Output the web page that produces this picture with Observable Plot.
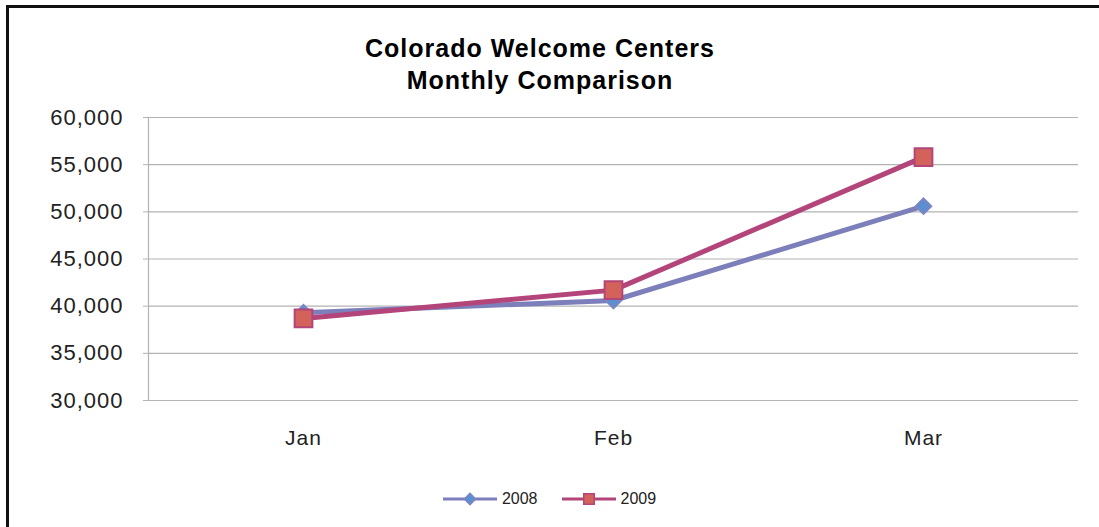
<!DOCTYPE html>
<html>
<head>
<meta charset="utf-8">
<script src="https://cdn.jsdelivr.net/npm/d3@7"></script>
<script src="https://cdn.jsdelivr.net/npm/@observablehq/plot@0.6"></script>
<style>
  html, body { margin: 0; padding: 0; background: #fff; }
  #wrap { position: relative; width: 1099px; height: 527px; overflow: hidden; font-family: "Liberation Sans", Arial, sans-serif; }
  #border { position: absolute; left: 6px; top: 5px; width: 1200px; height: 600px; border-left: 3px solid #111; border-top: 3px solid #111; }
  #title { position: absolute; left: 0; width: 1080px; top: 32px; text-align: center; font-weight: bold; font-size: 25px; line-height: 32px; letter-spacing: 1px; color: #000; }
  #chart { position: absolute; left: 0; top: 0; }
  #chart svg g[aria-label="y-axis tick label"] text, #chart svg g[aria-label="x-axis tick label"] text { letter-spacing: 1px; }
  #legend { position: absolute; top: 489px; left: 0; width: 1099px; display: flex; justify-content: center; font-size: 16px; color: #222; }
  .item { display: flex; align-items: center; margin: 0 12px; }
  .item svg { margin-right: 5px; }
</style>
</head>
<body>
<div id="wrap">
  <div id="border"></div>
  <div id="title">Colorado Welcome Centers<br>Monthly Comparison</div>
  <div id="chart"></div>
  <div id="legend"></div>
</div>
<script>
const months = ["Jan", "Feb", "Mar"];
const series = ["2008", "2009"];
const values2008 = [39300, 40600, 50600];
const values2009 = [38700, 41700, 55800];
const yTicks = [30000, 35000, 40000, 45000, 50000, 55000, 60000];

const colors = {
  "2008": {line: "#7d7fbb", fill: "#5b8fd0", stroke: "#7d86c4", symbol: "diamond2", r: 7},
  "2009": {line: "#b3457a", fill: "#d2625a", stroke: "#b3457a", symbol: "square", r: 10}
};

const data = [];
months.forEach((m, i) => {
  data.push({month: m, series: "2008", value: values2008[i]});
  data.push({month: m, series: "2009", value: values2009[i]});
});

const marks = [
  Plot.ruleY(yTicks, {stroke: "#b3b3b3", strokeWidth: 1.2}),
  Plot.frame({anchor: "left", stroke: "#b3b3b3", strokeWidth: 1.2}),
  Plot.axisY({ticks: yTicks, tickFormat: d3.format(","), tickSize: 5, tickPadding: 20, fontSize: 22, stroke: "#b3b3b3", fill: "#222"}),
  Plot.axisX({tickSize: 0, tickPadding: 30, fontSize: 21, fill: "#222"})
];
for (const s of series) {
  const c = colors[s];
  const d = data.filter(e => e.series === s);
  marks.push(Plot.line(d, {x: "month", y: "value", stroke: c.line, strokeWidth: 5}));
}
for (const s of series) {
  const c = colors[s];
  const d = data.filter(e => e.series === s);
  marks.push(Plot.dot(d, {x: "month", y: "value", symbol: () => c.symbol, r: c.r, fill: c.fill, stroke: c.stroke, strokeWidth: 2}));
}

const chart = Plot.plot({
  width: 1099,
  height: 527,
  marginTop: 117,
  marginBottom: 127,
  marginLeft: 148,
  marginRight: 21,
  style: {fontFamily: "'Liberation Sans', Arial, sans-serif", background: "transparent"},
  x: {type: "point", domain: months, padding: 0.5, label: null},
  y: {domain: [30000, 60000], label: null},
  symbol: {type: "identity"},
  marks
});
document.getElementById("chart").appendChild(chart);

// legend
const legend = d3.select("#legend");
for (const s of series) {
  const c = colors[s];
  const item = legend.append("div").attr("class", "item");
  const svg = item.append("svg").attr("width", 54).attr("height", 20);
  svg.append("line").attr("x1", 0).attr("x2", 54).attr("y1", 10).attr("y2", 10).attr("stroke", c.line).attr("stroke-width", 3);
  const sym = d3.symbol(c.symbol === "square" ? d3.symbolSquare : d3.symbolDiamond2, c.symbol === "square" ? 110 : 80)();
  svg.append("path").attr("d", sym).attr("transform", "translate(27,10)").attr("fill", c.fill).attr("stroke", c.stroke).attr("stroke-width", 1.5);
  item.append("span").text(s);
}
</script>
</body>
</html>
